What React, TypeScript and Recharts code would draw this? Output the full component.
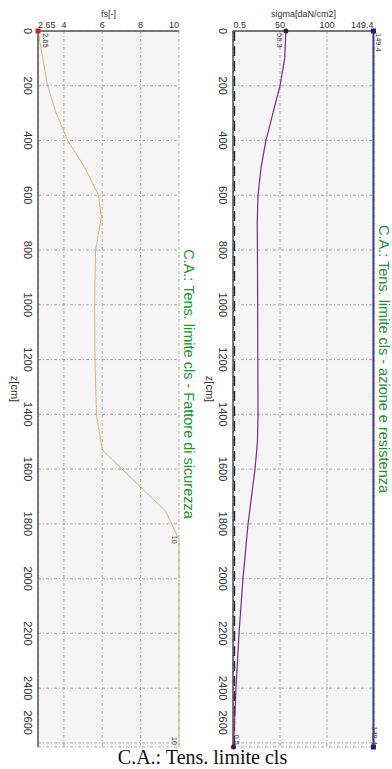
import React from 'react';
import { ComposedChart, Line, XAxis, YAxis, CartesianGrid } from 'recharts';

// depth axis
const Z_MAX = 2615;
const zTicks = [0, 200, 400, 600, 800, 1000, 1200, 1400, 1600, 1800, 2000, 2200, 2400, 2600];

// safety factor panel
const fsTicks = [2.65, 4, 6, 8, 10];
const fsDepth = [0, 100, 200, 300, 400, 500, 600, 680, 800, 1000, 1200, 1400, 1530, 1754, 1857, 2615];
const fsValues = [2.65, 2.9, 3.15, 3.6, 4.2, 5.1, 5.8, 5.95, 5.65, 5.6, 5.62, 5.7, 6.0, 9.3, 10, 10];

// action / resistance panel
const sigmaTicks = [0.5, 50, 100, 149.4];
const sigmaDepth = [0, 100, 200, 300, 400, 500, 600, 700, 800, 1000, 1200, 1400, 1500, 1600, 1800, 2000, 2200, 2400, 2615];
const sigmaValues = [56.3, 55, 50, 42.5, 35, 29.8, 26.6, 25.8, 26, 26.2, 26.4, 26.6, 26, 23.4, 16, 10.6, 6.4, 3.2, 0.5];
const limitDepth = [0, 2615];
const limitValues = [1.5, 1.5];
const resistDepth = [0, 2615];
const resistValues = [149.4, 149.4];

const toRows = (zs: number[], vs: number[]) => zs.map((z, i) => ({ z, v: vs[i] }));
const fsData = toRows(fsDepth, fsValues);
const sigmaData = toRows(sigmaDepth, sigmaValues);
const limitData = toRows(limitDepth, limitValues);
const resistData = toRows(resistDepth, resistValues);

const FONT = "Arial, 'Liberation Sans', sans-serif";
const FRAME = '#555';
const PANEL_W = 196;
const PANEL_H = 769;

const YTick = (props: any) => {
  const { x, y, payload, index } = props;
  // the last label is kept inside the frame
  const last = index === zTicks.length - 1;
  return (
    <text transform={`translate(${x},${last ? y - 8 : y}) rotate(90)`} textAnchor={last ? 'end' : 'middle'}
      dominantBaseline="central" fontSize={11} fontFamily={FONT} fill="#333">
      {payload.value}
    </text>
  );
};

const makeXTick = (count: number) => (props: any) => {
  const { x, y, payload, index } = props;
  const anchor = index === 0 ? 'start' : index === count - 1 ? 'end' : 'middle';
  return (
    <text x={x} y={y} textAnchor={anchor} fontSize={9} fontFamily={FONT} fill="#333">
      {payload.value}
    </text>
  );
};

type Mark = { index: number; color?: string; shape?: 'square' | 'circle'; dx: number; anchor: 'start' | 'end' | 'middle' };

const makeDot = (marks: Mark[]) => (props: any) => {
  const { cx, cy, index, payload } = props;
  const m = marks.find((mk) => mk.index === index);
  if (!m || cx == null || cy == null) return <g key={`d${index}`} />;
  const shift = m.anchor === 'start' ? 2 : m.anchor === 'end' ? -2 : 0;
  return (
    <g key={`d${index}`}>
      {m.color && m.shape === 'square' && <rect x={cx - 2.5} y={cy - 2.5} width={5} height={5} fill={m.color} />}
      {m.color && m.shape === 'circle' && <circle cx={cx} cy={cy} r={2.5} fill={m.color} />}
      <text transform={`translate(${cx + m.dx},${cy + shift}) rotate(90)`} textAnchor={m.anchor}
        dominantBaseline="central" fontSize={7.5} fontFamily={FONT} fill="#444">
        {payload.v}
      </text>
    </g>
  );
};

// z label on the left, green panel title on the right of the plot
const sideLabels = (title: string, titleX: number, titleDy: number) => (props: any) => {
  const vb = props.viewBox || {};
  const cy = vb.y + vb.height / 2;
  return (
    <g>
      <text transform={`translate(${vb.x + 7},${cy}) rotate(90)`} textAnchor="middle" dominantBaseline="central"
        fontSize={11} fontFamily={FONT} fill="#333">
        z[cm]
      </text>
      <text transform={`translate(${titleX},${cy + titleDy}) rotate(90)`} textAnchor="middle" dominantBaseline="central"
        fontSize={14.5} fontFamily={FONT} fill="#22922a">
        {title}
      </text>
    </g>
  );
};

const topLabel = (text: string) => (props: any) => {
  const vb = props.viewBox || {};
  return (
    <text x={vb.x + vb.width / 2} y={vb.y + 6} textAnchor="middle" fontSize={9} fontFamily={FONT} fill="#333">
      {text}
    </text>
  );
};

const Panel = ({ children, xDomain, xTicks, xTitle, title, titleDy, margin }: any) => (
  <ComposedChart width={PANEL_W} height={PANEL_H} layout="vertical" margin={margin}>
    <CartesianGrid fill="#f5f5f5" stroke="#a8a8a8" strokeDasharray="3 2 1 2" />
    <XAxis type="number" orientation="top" domain={xDomain} ticks={xTicks} height={20}
      tickSize={0} tickMargin={3} tick={makeXTick(xTicks.length)} stroke={FRAME} strokeWidth={1.5}
      label={{ content: topLabel(xTitle) }} />
    <XAxis xAxisId="frame" type="number" orientation="bottom" domain={xDomain} height={0}
      tick={false} tickLine={false} stroke={FRAME} strokeWidth={1.5} />
    <YAxis type="number" dataKey="z" domain={[0, Z_MAX]} ticks={zTicks} width={30}
      tickSize={0} tickMargin={10} tick={<YTick />} stroke={FRAME} strokeWidth={1.5}
      label={{ content: sideLabels(title, PANEL_W - margin.right + 10, titleDy) }} />
    <YAxis yAxisId="frame" type="number" orientation="right" domain={[0, Z_MAX]} width={0}
      tick={false} tickLine={false} stroke={FRAME} strokeWidth={1.5} />
    {children}
  </ComposedChart>
);

export default function App() {
  return (
    <div style={{ position: 'absolute', left: 0, top: 0, width: 392, height: 769, background: '#fff' }}>
      <div style={{ position: 'absolute', left: 0, top: 0 }}>
        <Panel xDomain={[2.65, 10]} xTicks={fsTicks} xTitle="fs[-]"
          title="C.A.: Tens. limite cls - Fattore di sicurezza" titleDy={-5}
          margin={{ top: 11, right: 17, bottom: 22, left: 8 }}>
          <Line data={fsData} dataKey="v" type="linear" stroke="#d4b482" strokeWidth={1}
            isAnimationActive={false}
            dot={makeDot([
              { index: 0, color: '#c8202e', shape: 'square', dx: 7, anchor: 'start' },
              { index: 14, dx: -5, anchor: 'middle' },
              { index: fsData.length - 1, dx: -5, anchor: 'end' },
            ])} />
        </Panel>
      </div>
      <div style={{ position: 'absolute', left: 196, top: 0 }}>
        <Panel xDomain={[0, 150]} xTicks={sigmaTicks} xTitle="sigma[daN/cm2]"
          title="C.A.: Tens. limite cls - azione e resistenza" titleDy={-30}
          margin={{ top: 11, right: 18, bottom: 22, left: 7 }}>
          <Line data={limitData} dataKey="v" type="linear" stroke="#222" strokeWidth={1.5}
            strokeDasharray="10 5" dot={false} isAnimationActive={false} />
          <Line data={resistData} dataKey="v" type="linear" stroke="#3d3d96" strokeWidth={2}
            isAnimationActive={false}
            dot={makeDot([
              { index: 0, color: '#1c1c80', shape: 'square', dx: 5, anchor: 'start' },
              { index: resistData.length - 1, color: '#1c1c80', shape: 'square', dx: 1, anchor: 'end' },
            ])} />
          <Line data={sigmaData} dataKey="v" type="linear" stroke="#7a2e7e" strokeWidth={1.2}
            isAnimationActive={false}
            dot={makeDot([
              { index: 0, color: '#4a1050', shape: 'circle', dx: -6, anchor: 'start' },
              { index: sigmaData.length - 1, color: '#4a1050', shape: 'circle', dx: 3, anchor: 'end' },
            ])} />
        </Panel>
      </div>
      <div style={{ position: 'absolute', left: 0, top: 747, width: 405, textAlign: 'center',
        fontFamily: "'Times New Roman', 'Liberation Serif', serif", fontSize: 20, lineHeight: '20px', color: '#111' }}>
        C.A.: Tens. limite cls
      </div>
    </div>
  );
}
